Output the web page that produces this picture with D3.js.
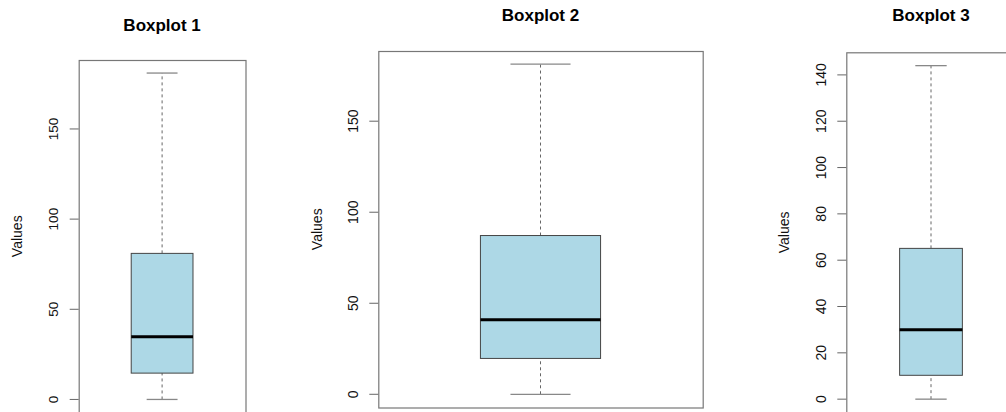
<!DOCTYPE html>
<html lang="en">
<head>
  <meta charset="UTF-8">
  <title>Three Boxplots</title>
  <script src="https://d3js.org/d3.v7.min.js"></script>
  <style>
    body {
      margin: 0;
      background: #fff;
      font-family: "Liberation Sans", Arial, sans-serif;
    }
    svg { display: block; }
  </style>
</head>
<body>
<svg width="1006" height="412"></svg>

<script>
  // five-number summaries: min, q1, median, q3, max
  const titles = ["Boxplot 1", "Boxplot 2", "Boxplot 3"];
  const stats1 = [0, 14.6, 34.8, 81, 181];
  const stats2 = [0, 19.7, 41, 87.2, 181.3];
  const stats3 = [0, 10.3, 30, 65.1, 144];
  const ticks1 = [0, 50, 100, 150];
  const ticks2 = [0, 50, 100, 150];
  const ticks3 = [0, 20, 40, 60, 80, 100, 120, 140];

  // where each plot region sits on the page
  const panels = [
    { title: titles[0], stats: stats1, ticks: ticks1, left: 78.7, right: 245.5, top: 60, bottom: 412.5, titleY: 30.5, tickX: 58, labX: 22, fs: 13.5 },
    { title: titles[1], stats: stats2, ticks: ticks2, left: 378.3, right: 702.7, top: 51, bottom: 407.5, titleY: 21, tickX: 357.5, labX: 322, fs: 14 },
    { title: titles[2], stats: stats3, ticks: ticks3, left: 846.3, right: 1015.7, top: 52.3, bottom: 412.5, titleY: 21, tickX: 825.5, labX: 789, fs: 14 }
  ];

  const svg = d3.select("svg");

  panels.forEach(p => {
    const [lo, q1, med, q3, hi] = p.stats;
    const pad = (hi - lo) * 0.04;

    const y = d3.scaleLinear()
      .domain([lo - pad, hi + pad])
      .range([p.bottom, p.top]);

    // R puts a single box at x = 1 with range 0.5..1.5 plus 4%
    const x = d3.scaleLinear()
      .domain([0.5 - 0.04, 1.5 + 0.04])
      .range([p.left, p.right]);

    const g = svg.append("g");

    // frame
    g.append("rect")
      .attr("x", p.left + 0.5)
      .attr("y", p.top + 0.5)
      .attr("width", p.right - p.left)
      .attr("height", p.bottom - p.top)
      .attr("fill", "none")
      .attr("stroke", "#777")
      .attr("stroke-width", 1.2);

    // y axis ticks
    g.selectAll(".tick")
      .data(p.ticks)
      .join("line")
      .attr("x1", p.left - 9)
      .attr("x2", p.left)
      .attr("y1", d => y(d))
      .attr("y2", d => y(d))
      .attr("stroke", "#666")
      .attr("stroke-width", 1);

    g.selectAll(".tlab")
      .data(p.ticks)
      .join("text")
      .attr("transform", d => `translate(${p.tickX},${y(d)}) rotate(-90)`)
      .attr("text-anchor", "middle")
      .style("font-size", p.fs + "px")
      .style("fill", "#111")
      .text(d => d);

    // whiskers
    const boxW = 0.4;
    const cx = x(1);
    g.selectAll(".whisker")
      .data([[lo, q1], [q3, hi]])
      .join("line")
      .attr("x1", cx).attr("x2", cx)
      .attr("y1", d => y(d[0]))
      .attr("y2", d => y(d[1]))
      .attr("stroke", "#666")
      .attr("stroke-dasharray", "3,3");

    g.selectAll(".cap")
      .data([lo, hi])
      .join("line")
      .attr("x1", x(1 - boxW / 4))
      .attr("x2", x(1 + boxW / 4))
      .attr("y1", d => y(d))
      .attr("y2", d => y(d))
      .attr("stroke", "#888")
      .attr("stroke-width", 1.3);

    // box
    g.append("rect")
      .attr("x", x(1 - boxW / 2))
      .attr("y", y(q3))
      .attr("width", x(1 + boxW / 2) - x(1 - boxW / 2))
      .attr("height", y(q1) - y(q3))
      .attr("fill", "lightblue")
      .attr("stroke", "#444")
      .attr("stroke-width", 1);

    // median
    g.append("line")
      .attr("x1", x(1 - boxW / 2))
      .attr("x2", x(1 + boxW / 2))
      .attr("y1", y(med))
      .attr("y2", y(med))
      .attr("stroke", "#000")
      .attr("stroke-width", 3);

    // title
    g.append("text")
      .attr("x", cx)
      .attr("y", p.titleY)
      .attr("text-anchor", "middle")
      .style("font-size", "17px")
      .style("font-weight", "bold")
      .text(p.title);

    // y label
    g.append("text")
      .attr("transform", `translate(${p.labX},${(p.top + p.bottom) / 2}) rotate(-90)`)
      .attr("text-anchor", "middle")
      .style("font-size", "14px")
      .style("fill", "#111")
      .text("Values");
  });
</script>
</body>
</html>
